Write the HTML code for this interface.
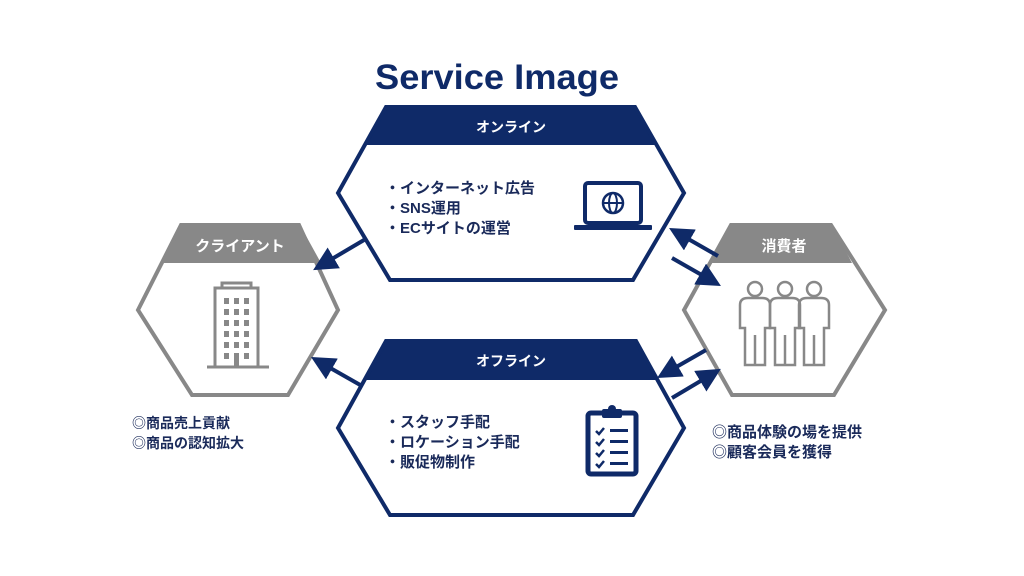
<!DOCTYPE html>
<html><head><meta charset="utf-8"><style>
html,body{margin:0;padding:0;background:#fff;}
svg{display:block;}
text{font-family:"Liberation Sans","Noto Sans CJK JP",sans-serif;font-weight:bold;}
</style></head><body>
<svg width="1024" height="576" viewBox="0 0 1024 576">
<defs>
<marker id="ah" markerWidth="6" markerHeight="6" refX="4" refY="3" orient="auto" markerUnits="strokeWidth">
<path d="M0,0 L6,3 L0,6 Z" fill="#0f2a68"/></marker>
</defs>
<text x="497" y="89" font-size="35" fill="#0f2a68" text-anchor="middle" textLength="244" lengthAdjust="spacingAndGlyphs">Service Image</text>

<!-- Online hex -->
<path d="M385,107 L636,107 L657,145 L364,145 Z" fill="#0f2a68"/>
<path d="M386,107 L635,107 L684,193 L633,280 L390,280 L338,193 Z" fill="none" stroke="#0f2a68" stroke-width="4" stroke-linejoin="miter"/>
<text x="511" y="132" font-size="14" fill="#fff" text-anchor="middle">オンライン</text>
<text font-size="15" fill="#1a2a5a"><tspan x="385" y="193">・インターネット広告</tspan><tspan x="385" y="213">・SNS運用</tspan><tspan x="385" y="233">・ECサイトの運営</tspan></text>
<!-- laptop -->
<rect x="585" y="183" width="56" height="40" rx="3" fill="none" stroke="#0f2a68" stroke-width="4"/>
<rect x="574" y="225" width="78" height="5" rx="1" fill="#0f2a68"/>
<circle cx="613" cy="203" r="10" fill="none" stroke="#0f2a68" stroke-width="2.5"/>
<ellipse cx="613" cy="203" rx="4" ry="10" fill="none" stroke="#0f2a68" stroke-width="2"/>
<line x1="603" y1="203" x2="623" y2="203" stroke="#0f2a68" stroke-width="2"/>

<!-- Offline hex -->
<path d="M385,341 L637,341 L658,380 L363,380 Z" fill="#0f2a68"/>
<path d="M386,341 L636,341 L684,428 L633,515 L390,515 L338,428 Z" fill="none" stroke="#0f2a68" stroke-width="4"/>
<text x="511" y="366" font-size="14" fill="#fff" text-anchor="middle">オフライン</text>
<text font-size="15" fill="#1a2a5a"><tspan x="385" y="427">・スタッフ手配</tspan><tspan x="385" y="447">・ロケーション手配</tspan><tspan x="385" y="467">・販促物制作</tspan></text>
<!-- clipboard -->
<rect x="588" y="413" width="48" height="61" rx="3" fill="none" stroke="#0f2a68" stroke-width="5"/>
<rect x="602" y="409" width="20" height="9" rx="2" fill="#0f2a68"/>
<circle cx="612" cy="409" r="4" fill="#0f2a68"/>
<g stroke="#0f2a68" stroke-width="2.5" fill="none">
<path d="M596,431 l3,3 l5,-6"/><path d="M596,442 l3,3 l5,-6"/><path d="M596,453 l3,3 l5,-6"/><path d="M596,464 l3,3 l5,-6"/>
</g>
<g fill="#0f2a68"><rect x="610" y="429" width="18" height="3"/><rect x="610" y="440" width="18" height="3"/><rect x="610" y="451" width="18" height="3"/><rect x="610" y="462" width="18" height="3"/></g>

<!-- Client hex -->
<path d="M180,225 L300,225 L321,263 L160,263 Z" fill="#888"/>
<path d="M181,225 L299,225 L338,310 L288,395 L192,395 L138,310 Z" fill="none" stroke="#888" stroke-width="4"/>
<text x="240" y="251" font-size="15" fill="#fff" text-anchor="middle">クライアント</text>
<g fill="none" stroke="#888" stroke-width="3">
<rect x="215" y="288" width="43" height="79"/><rect x="222" y="283" width="29" height="5"/>
</g>
<line x1="207" y1="367" x2="269" y2="367" stroke="#888" stroke-width="3"/>
<g fill="#888">
<rect x="224" y="298" width="5" height="6"/><rect x="234" y="298" width="5" height="6"/><rect x="244" y="298" width="5" height="6"/>
<rect x="224" y="309" width="5" height="6"/><rect x="234" y="309" width="5" height="6"/><rect x="244" y="309" width="5" height="6"/>
<rect x="224" y="320" width="5" height="6"/><rect x="234" y="320" width="5" height="6"/><rect x="244" y="320" width="5" height="6"/>
<rect x="224" y="331" width="5" height="6"/><rect x="234" y="331" width="5" height="6"/><rect x="244" y="331" width="5" height="6"/>
<rect x="224" y="342" width="5" height="6"/><rect x="234" y="342" width="5" height="6"/><rect x="244" y="342" width="5" height="6"/>
<rect x="234" y="353" width="5" height="14"/><rect x="224" y="353" width="5" height="6"/><rect x="244" y="353" width="5" height="6"/>
</g>
<text font-size="14" fill="#1a2a5a"><tspan x="132" y="428">◎商品売上貢献</tspan><tspan x="132" y="448">◎商品の認知拡大</tspan></text>

<!-- Consumer hex -->
<path d="M730,225 L832,225 L852,263 L710,263 Z" fill="#888"/>
<path d="M731,225 L831,225 L885,310 L834,395 L732,395 L684,310 Z" fill="none" stroke="#888" stroke-width="4"/>
<text x="784" y="251" font-size="15" fill="#fff" text-anchor="middle">消費者</text>
<g fill="none" stroke="#888" stroke-width="2.5">
<circle cx="755" cy="289" r="7"/><circle cx="785" cy="289" r="7"/><circle cx="814" cy="289" r="7"/>
<path d="M745,365 L745,328 L740,328 L740,305 Q740,298 748,298 L762,298 Q770,298 770,305 L770,328 L765,328 L765,365 Z"/>
<path d="M775,365 L775,328 L770,328 L770,305 Q770,298 778,298 L792,298 Q800,298 800,305 L800,328 L795,328 L795,365 Z"/>
<path d="M804,365 L804,328 L799,328 L799,305 Q799,298 807,298 L821,298 Q829,298 829,305 L829,328 L824,328 L824,365 Z"/>
<line x1="755" y1="335" x2="755" y2="365"/><line x1="785" y1="335" x2="785" y2="365"/><line x1="814" y1="335" x2="814" y2="365"/>
</g>
<text font-size="15" fill="#1a2a5a"><tspan x="712" y="437">◎商品体験の場を提供</tspan><tspan x="712" y="457">◎顧客会員を獲得</tspan></text>

<!-- Arrows -->
<g stroke="#0f2a68" stroke-width="4" fill="none" marker-end="url(#ah)">
<line x1="364" y1="240" x2="320" y2="266"/>
<line x1="362" y1="386" x2="318" y2="361"/>
<line x1="718" y1="256" x2="676" y2="232"/>
<line x1="672" y1="258" x2="714" y2="282"/>
<line x1="706" y1="350" x2="664" y2="374"/>
<line x1="672" y1="398" x2="714" y2="373"/>
</g>
</svg>
</body></html>
